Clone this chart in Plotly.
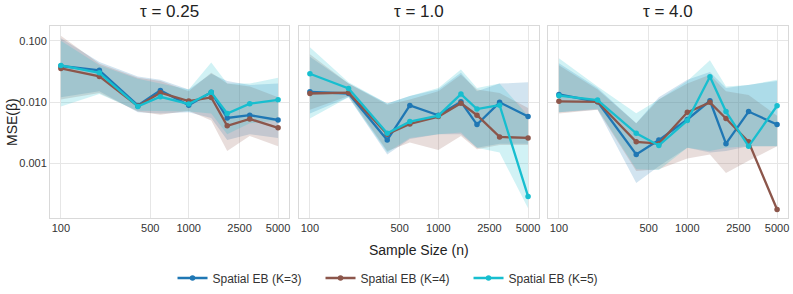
import plotly.graph_objects as go

sample_sizes = [100, 200, 400, 600, 1000, 1500, 2000, 3000, 5000]
panel_titles = ["τ = 0.25", "τ = 1.0", "τ = 4.0"]
series_names = ["Spatial EB (K=3)", "Spatial EB (K=4)", "Spatial EB (K=5)"]
series_colors = ["#1f77b4", "#8c564b", "#17becf"]
band_colors = ["rgba(31,119,180,0.2)", "rgba(140,86,75,0.2)", "rgba(23,190,207,0.2)"]

x_tick_vals = [100, 500, 1000, 2500, 5000]
x_tick_text = ["100", "500", "1000", "2500", "5000"]
y_tick_vals = [0.1, 0.01, 0.001]
y_tick_text = ["0.100", "0.010", "0.001"]

# tau = 0.25
mse_t025_k3 = [0.0387, 0.0329, 0.0088, 0.0155, 0.0089, 0.0144, 0.0055, 0.0061, 0.0051]
mse_t025_k4 = [0.0354, 0.0262, 0.0086, 0.0142, 0.0104, 0.0119, 0.0041, 0.0053, 0.0038]
mse_t025_k5 = [0.0396, 0.0300, 0.0085, 0.0122, 0.0093, 0.0144, 0.0065, 0.0094, 0.0109]
lo_t025_k3 = [0.012, 0.015, 0.0068, 0.0065, 0.0068, 0.0055, 0.0024, 0.0030, 0.0026]
hi_t025_k3 = [0.110, 0.045, 0.026, 0.023, 0.016, 0.029, 0.022, 0.019, 0.020]
lo_t025_k4 = [0.011, 0.014, 0.0070, 0.0062, 0.0072, 0.0050, 0.0016, 0.0028, 0.0019]
hi_t025_k4 = [0.120, 0.042, 0.025, 0.022, 0.015, 0.030, 0.020, 0.018, 0.012]
lo_t025_k5 = [0.0085, 0.0135, 0.0072, 0.0070, 0.0070, 0.0065, 0.0030, 0.0045, 0.0050]
hi_t025_k5 = [0.100, 0.040, 0.024, 0.020, 0.016, 0.044, 0.020, 0.020, 0.025]

# tau = 1.0
mse_t1_k3 = [0.0147, 0.0138, 0.0024, 0.0088, 0.0061, 0.0101, 0.0043, 0.0099, 0.0058]
mse_t1_k4 = [0.0138, 0.0142, 0.0030, 0.0044, 0.0058, 0.0096, 0.0061, 0.0027, 0.0026]
mse_t1_k5 = [0.0290, 0.0167, 0.0031, 0.0048, 0.0060, 0.0135, 0.0077, 0.0089, 0.00029]
lo_t1_k3 = [0.0065, 0.012, 0.0014, 0.0025, 0.0030, 0.0030, 0.0018, 0.0021, 0.0021]
hi_t1_k3 = [0.055, 0.020, 0.0095, 0.0125, 0.016, 0.030, 0.015, 0.020, 0.021]
lo_t1_k4 = [0.0075, 0.0125, 0.0016, 0.0022, 0.00165, 0.0028, 0.0017, 0.0020, 0.0020]
hi_t1_k4 = [0.060, 0.020, 0.0090, 0.011, 0.015, 0.028, 0.016, 0.014, 0.008]
lo_t1_k5 = [0.0054, 0.012, 0.0015, 0.0026, 0.0030, 0.0032, 0.0018, 0.0015, 0.000185]
hi_t1_k5 = [0.078, 0.021, 0.0095, 0.0125, 0.017, 0.034, 0.017, 0.020, 0.006]

# tau = 4.0
mse_t4_k3 = [0.0133, 0.0101, 0.0014, 0.0024, 0.0052, 0.0105, 0.0021, 0.0070, 0.0043]
mse_t4_k4 = [0.0103, 0.0101, 0.00225, 0.0021, 0.0068, 0.0099, 0.0054, 0.00225, 0.000177]
mse_t4_k5 = [0.0127, 0.0108, 0.0031, 0.00196, 0.0050, 0.0259, 0.0070, 0.0019, 0.0087]
lo_t4_k3 = [0.0068, 0.0075, 0.00048, 0.0009, 0.0018, 0.0015, 0.0016, 0.0019, 0.0019]
hi_t4_k3 = [0.043, 0.017, 0.0045, 0.012, 0.023, 0.031, 0.017, 0.019, 0.022]
lo_t4_k4 = [0.0065, 0.0075, 0.00075, 0.0008, 0.0012, 0.0014, 0.0007, 0.0011, 0.0019]
hi_t4_k4 = [0.040, 0.016, 0.0045, 0.011, 0.020, 0.028, 0.015, 0.013, 0.006]
lo_t4_k5 = [0.0068, 0.0078, 0.0008, 0.00078, 0.0018, 0.0016, 0.0018, 0.0019, 0.0019]
hi_t4_k5 = [0.052, 0.018, 0.0066, 0.011, 0.022, 0.048, 0.018, 0.019, 0.023]

panels = [
    ([mse_t025_k3, mse_t025_k4, mse_t025_k5],
     [lo_t025_k3, lo_t025_k4, lo_t025_k5],
     [hi_t025_k3, hi_t025_k4, hi_t025_k5]),
    ([mse_t1_k3, mse_t1_k4, mse_t1_k5],
     [lo_t1_k3, lo_t1_k4, lo_t1_k5],
     [hi_t1_k3, hi_t1_k4, hi_t1_k5]),
    ([mse_t4_k3, mse_t4_k4, mse_t4_k5],
     [lo_t4_k3, lo_t4_k4, lo_t4_k5],
     [hi_t4_k3, hi_t4_k4, hi_t4_k5]),
]

FONT = "Liberation Sans, Arial, sans-serif"
fig = go.Figure()

x_domains = [[0.0, 0.3238], [0.3374, 0.6626], [0.6748, 1.0]]

for p, (means, los, his) in enumerate(panels):
    xa = "x" if p == 0 else f"x{p+1}"
    ya = "y" if p == 0 else f"y{p+1}"
    for s in range(3):
        fig.add_trace(go.Scatter(
            x=sample_sizes + sample_sizes[::-1],
            y=his[s] + los[s][::-1],
            fill="toself", fillcolor=band_colors[s],
            line=dict(width=0), mode="lines",
            showlegend=False, hoverinfo="skip", xaxis=xa, yaxis=ya))
    for s in range(3):
        fig.add_trace(go.Scatter(
            x=sample_sizes, y=means[s], mode="lines+markers",
            name=series_names[s],
            line=dict(color=series_colors[s], width=2.3),
            marker=dict(color=series_colors[s], size=5.5),
            showlegend=(p == 0), xaxis=xa, yaxis=ya))

axis_common = dict(
    showgrid=True, gridcolor="#e6e6e6", gridwidth=1,
    showline=True, linecolor="#d9d9d9", linewidth=1, mirror=True,
    zeroline=False, ticks="", automargin=False,
    tickfont=dict(family=FONT, size=11, color="#333333"),
)

layout = dict(
    width=793, height=294,
    margin=dict(l=50, r=5, t=26, b=76, autoexpand=False),
    paper_bgcolor="white", plot_bgcolor="white",
    font=dict(family=FONT, color="#333333"),
    showlegend=True,
    hovermode=False,
    legend=dict(orientation="h", xref="container", yref="container",
                x=0.4975, xanchor="center", y=0.0544, yanchor="middle",
                font=dict(family=FONT, size=12, color="#333333"),
                entrywidth=103, entrywidthmode="pixels", itemwidth=30),
)

for p in range(3):
    xk = "xaxis" if p == 0 else f"xaxis{p+1}"
    yk = "yaxis" if p == 0 else f"yaxis{p+1}"
    layout[xk] = dict(axis_common, type="log", domain=x_domains[p],
                      range=[1.915, 3.784], tickvals=x_tick_vals, ticktext=x_tick_text,
                      anchor="y" if p == 0 else f"y{p+1}")
    layout[yk] = dict(axis_common, type="log", domain=[0, 1],
                      range=[-3.89, -0.76], tickvals=y_tick_vals, ticktext=y_tick_text,
                      showticklabels=(p == 0),
                      anchor="x" if p == 0 else f"x{p+1}")

fig.update_layout(**layout)

annotations = []
for p in range(3):
    cx = (x_domains[p][0] + x_domains[p][1]) / 2
    annotations.append(dict(text=panel_titles[p], x=cx, y=(218 - 11) / 192, xref="paper", yref="paper",
                            xanchor="center", yanchor="middle", showarrow=False,
                            font=dict(family=FONT, size=17, color="#222222")))
annotations.append(dict(text="Sample Size (n)", x=0.5, y=-0.1667, xref="paper", yref="paper",
                        xanchor="center", yanchor="middle", showarrow=False,
                        font=dict(family=FONT, size=14, color="#222222")))
annotations.append(dict(text="MSE(β)", x=-0.0515, y=0.5, xref="paper", yref="paper",
                        xanchor="center", yanchor="middle", textangle=-90, showarrow=False,
                        font=dict(family=FONT, size=14, color="#222222")))
fig.update_layout(annotations=annotations)

fig.write_html("out.html", config={"displayModeBar": False},
               post_script="document.body.style.margin='0';")
